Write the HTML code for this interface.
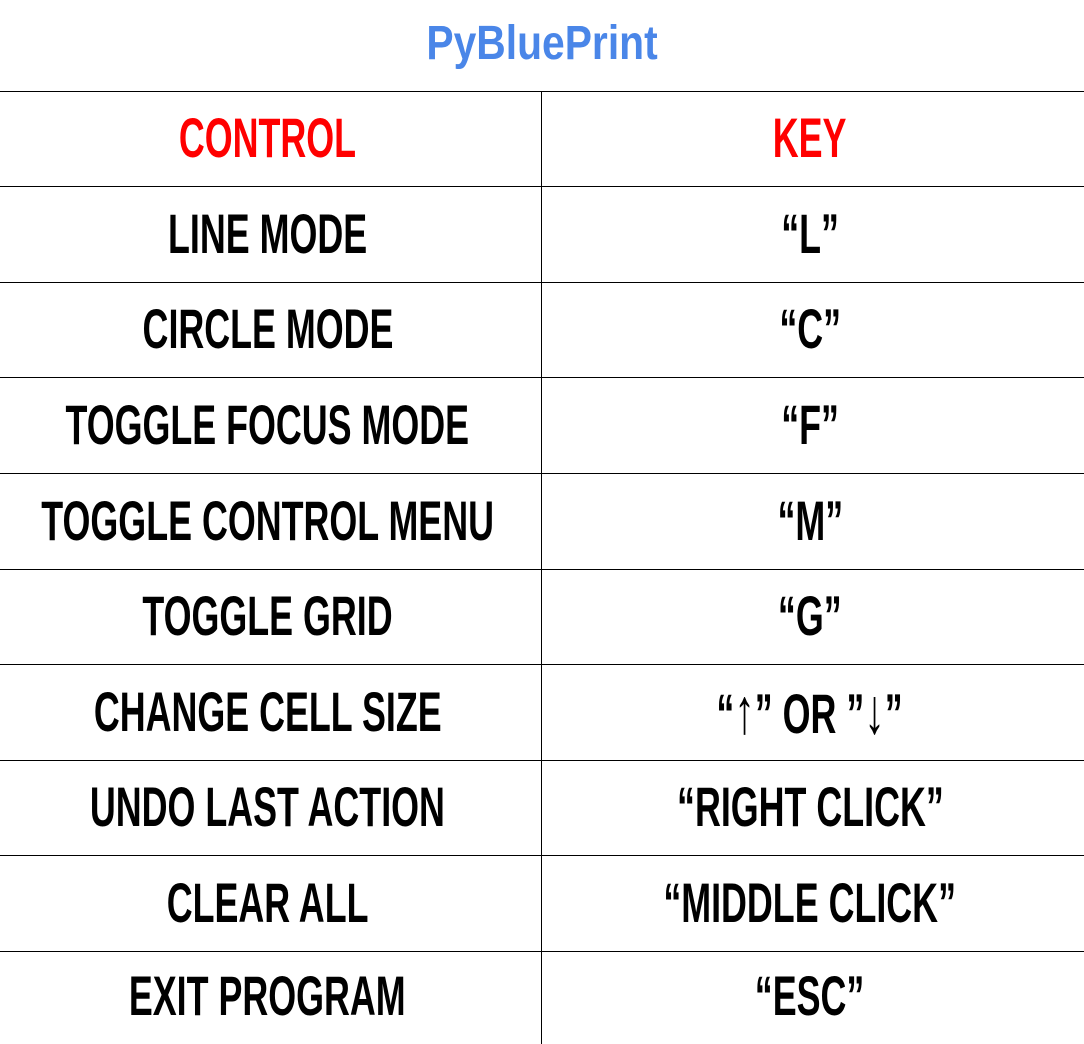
<!DOCTYPE html>
<html><head><meta charset="utf-8"><style>
html,body{margin:0;padding:0;background:#fff;width:1084px;height:1044px;overflow:hidden;position:relative;font-family:"Liberation Sans",sans-serif;}
.title{position:absolute;left:0;width:1084px;top:14px;text-align:center;font-weight:bold;font-size:48px;line-height:60px;color:#4a86e8;}
.title span{display:inline-block;transform:scaleX(0.85);}
.h{position:absolute;left:0;width:1084px;height:1px;background:#000;}
.v{position:absolute;left:541px;width:1px;top:91px;height:953px;background:#000;}
.c{position:absolute;height:96px;display:flex;align-items:center;justify-content:center;font-weight:bold;font-size:56px;color:#000;white-space:nowrap;margin-top:-2px;}
.c span{display:inline-block;transform:scaleX(0.64);}
.l{left:-3px;width:541px;}
.r{left:539px;width:542px;}
.red{color:#f00;}
.ar{font-size:64px;font-weight:normal;}
</style></head><body>
<div class="title"><span>PyBluePrint</span></div>
<div class="h" style="top:91px"></div>
<div class="h" style="top:186px"></div>
<div class="h" style="top:282px"></div>
<div class="h" style="top:377px"></div>
<div class="h" style="top:473px"></div>
<div class="h" style="top:569px"></div>
<div class="h" style="top:664px"></div>
<div class="h" style="top:760px"></div>
<div class="h" style="top:855px"></div>
<div class="h" style="top:951px"></div>
<div class="v"></div>

<div class="c l red" style="top:91px"><span>CONTROL</span></div>
<div class="c r red" style="top:91px"><span>KEY</span></div>
<div class="c l" style="top:187px"><span>LINE MODE</span></div>
<div class="c r" style="top:187px"><span>“L”</span></div>
<div class="c l" style="top:282px"><span>CIRCLE MODE</span></div>
<div class="c r" style="top:282px"><span>“C”</span></div>
<div class="c l" style="top:378px"><span>TOGGLE FOCUS MODE</span></div>
<div class="c r" style="top:378px"><span>“F”</span></div>
<div class="c l" style="top:474px"><span>TOGGLE CONTROL MENU</span></div>
<div class="c r" style="top:474px"><span>“M”</span></div>
<div class="c l" style="top:569px"><span>TOGGLE GRID</span></div>
<div class="c r" style="top:569px"><span>“G”</span></div>
<div class="c l" style="top:665px"><span>CHANGE CELL SIZE</span></div>
<div class="c r" style="top:665px"><span>“<b class="ar">↑</b>” OR ”<b class="ar">↓</b>”</span></div>
<div class="c l" style="top:760px"><span>UNDO LAST ACTION</span></div>
<div class="c r" style="top:760px"><span>“RIGHT CLICK”</span></div>
<div class="c l" style="top:856px"><span>CLEAR ALL</span></div>
<div class="c r" style="top:856px"><span>“MIDDLE CLICK”</span></div>
<div class="c l" style="top:951px;height:93px"><span>EXIT PROGRAM</span></div>
<div class="c r" style="top:951px;height:93px"><span>“ESC”</span></div>
</body></html>
